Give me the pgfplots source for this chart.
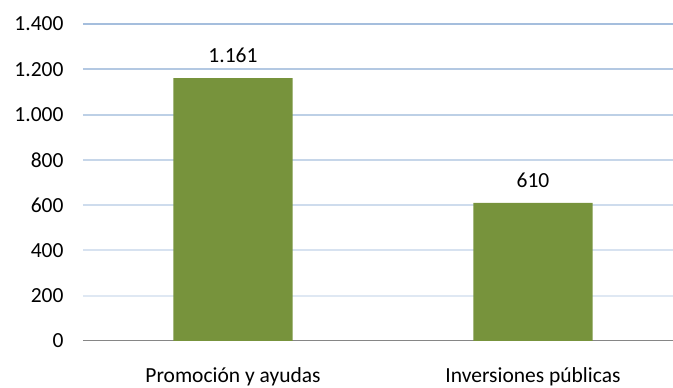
\documentclass[border=0pt]{standalone}
\usepackage{pgfplots}
\pgfplotsset{compat=1.18}
\usepackage{fontspec}
\setmainfont{Carlito}
\definecolor{barg}{HTML}{77933C}
\definecolor{gridb}{HTML}{95B3D7}
\definecolor{axg}{HTML}{868686}
\begin{document}
\begin{tikzpicture}
\path[use as bounding box] (0,0) rectangle (673pt,388pt);
\begin{axis}[
  at={(83pt,47pt)}, anchor=south west,
  scale only axis, width=590pt, height=317pt,
  xmin=-0.5, xmax=1.4667, ymin=0, ymax=1400,
  clip=false,
  axis y line*=left, axis x line*=bottom,
  y axis line style={draw=none},
  x axis line style={draw=axg, line width=1pt},
  ytick={0,200,...,1400},
  ytick style={draw=none},
  xtick={0,1},
  xticklabels={Promoción y ayudas, Inversiones públicas},
  major x tick style={draw=none},
  extra x ticks={-0.5,0.5},
  extra x tick labels={},
  extra x tick style={major tick length=5pt, tick align=outside, tick style={draw=axg, line width=1pt}},
  font=\fontsize{21.5}{25}\selectfont,
  /pgf/number format/assume math mode=true,
  /pgf/number format/.cd, 1000 sep={.}, /pgfplots/.cd,
  yticklabel style={anchor=east, xshift=-16pt},
  xticklabel style={yshift=-18.5pt},
  ybar, bar width=0.397,
  nodes near coords,
  nodes near coords style={anchor=south, yshift=12pt, font=\fontsize{21.5}{25}\selectfont},
]
\draw[line width=2pt, color=gridb!30!white] (axis cs:-0.5,200) -- (axis cs:1.4667,200);
\draw[line width=2pt, color=gridb!38!white] (axis cs:-0.5,400) -- (axis cs:1.4667,400);
\draw[line width=2pt, color=gridb!46!white] (axis cs:-0.5,600) -- (axis cs:1.4667,600);
\draw[line width=2pt, color=gridb!54!white] (axis cs:-0.5,800) -- (axis cs:1.4667,800);
\draw[line width=2pt, color=gridb!62!white] (axis cs:-0.5,1000) -- (axis cs:1.4667,1000);
\draw[line width=2pt, color=gridb!72!white] (axis cs:-0.5,1200) -- (axis cs:1.4667,1200);
\draw[line width=2pt, color=gridb!85!white] (axis cs:-0.5,1400) -- (axis cs:1.4667,1400);
\addplot[fill=barg, draw=none] coordinates {(0,1161) (1,610)};
\end{axis}
\end{tikzpicture}
\end{document}
